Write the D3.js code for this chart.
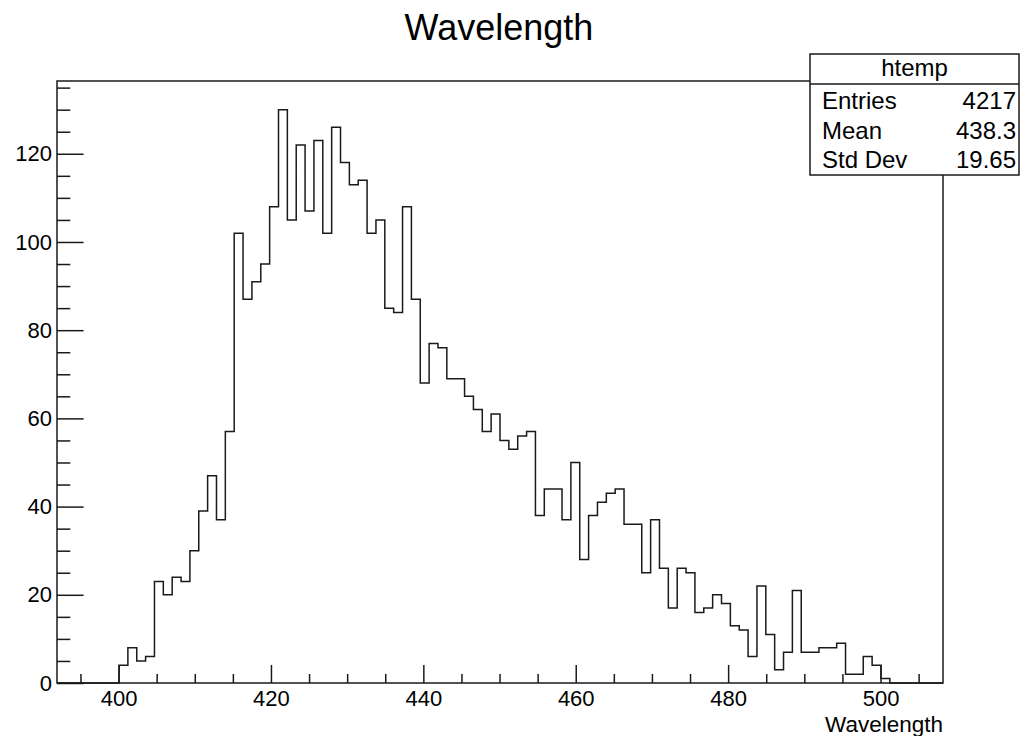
<!DOCTYPE html>
<html lang="en">
<head>
<meta charset="UTF-8">
<title>Wavelength</title>
<script src="https://d3js.org/d3.v7.min.js"></script>
<style>
  body { margin: 0; background: #fff; }
  text { font-family: "Liberation Sans", Arial, Helvetica, sans-serif; fill: #000; }
</style>
</head>
<body>
<script>

// bin contents of htemp, 100 equal bins between xLimits
var counts = [
  0, 0, 0, 0, 0, 0, 0,
  4, 8, 5, 6, 23, 20, 24, 23, 30, 39, 47, 37, 57,
  102, 87, 91, 95, 108, 130, 105, 122, 107, 123, 102, 126, 118, 113, 114, 102, 105, 85, 84, 108, 87, 68, 77, 76, 69,
  69, 65, 62, 57, 61, 55, 53, 56, 57, 38, 44, 44, 37, 50, 28, 38, 41, 43, 44, 36, 36, 25, 37, 26, 17, 26, 25,
  16, 17, 20, 18, 13, 12, 6, 22, 11, 3, 7, 21, 7, 7, 8, 8, 9, 2, 2, 6, 4, 1,
  0, 0, 0, 0, 0, 0
];
var xLimits = [391.92, 508.2];
var yLimits = [0, 136.5];

var xMajorTicks = [400, 420, 440, 460, 480, 500];
var xMinorTicks = [395, 405, 410, 415, 425, 430, 435, 445, 450, 455, 465, 470, 475, 485, 490, 495, 505];
var yMajorTicks = [0, 20, 40, 60, 80, 100, 120];
var yMinorTicks = [5, 10, 15, 25, 30, 35, 45, 50, 55, 65, 70, 75, 85, 90, 95, 105, 110, 115, 125, 130, 135];

var statNames = ["Entries", "Mean", "Std Dev"];
var statValues = ["4217", "438.3", "19.65"];

var W = 1027, H = 736;
var frame = {left: 57, right: 943, top: 81, bottom: 683};
var ink = "#1a1a1a";

var svg = d3.select("body").append("svg")
    .attr("width", W)
    .attr("height", H);

var x = d3.scaleLinear().domain(xLimits).range([frame.left, frame.right]);
var y = d3.scaleLinear().domain(yLimits).range([frame.bottom, frame.top]);

// frame
svg.append("rect")
    .attr("x", frame.left)
    .attr("y", frame.top)
    .attr("width", frame.right - frame.left)
    .attr("height", frame.bottom - frame.top)
    .attr("fill", "none")
    .attr("stroke", ink)
    .attr("stroke-width", 1.5);

// histogram outline, step style
var binW = (xLimits[1] - xLimits[0]) / counts.length;
var pts = [[xLimits[0], 0]];
counts.forEach(function(c, i) {
    var lo = xLimits[0] + i * binW;
    pts.push([lo, c]);
    pts.push([lo + binW, c]);
});
pts.push([xLimits[1], 0]);

var line = d3.line()
    .x(function(d) { return x(d[0]); })
    .y(function(d) { return y(d[1]); });

svg.append("path")
    .attr("d", line(pts))
    .attr("fill", "none")
    .attr("stroke", ink)
    .attr("stroke-width", 1.5);

// ticks point into the frame, like ROOT
var xMajorLen = 0.03 * (frame.bottom - frame.top);
var yMajorLen = 0.03 * (frame.right - frame.left);

var gx = svg.append("g")
    .attr("transform", "translate(0," + frame.bottom + ")");
gx.append("g")
    .call(d3.axisBottom(x).tickValues(xMinorTicks).tickSize(-xMajorLen / 2).tickSizeOuter(0).tickFormat(""));
gx.append("g")
    .call(d3.axisBottom(x).tickValues(xMajorTicks).tickSize(-xMajorLen).tickSizeOuter(0).tickPadding(7.5));
gx.selectAll(".domain").remove();
gx.selectAll("line").attr("stroke", ink).attr("stroke-width", 1.5);
gx.selectAll("text").style("font-size", "22px").attr("fill", "#000");

var gy = svg.append("g")
    .attr("transform", "translate(" + frame.left + ",0)");
gy.append("g")
    .call(d3.axisLeft(y).tickValues(yMinorTicks).tickSize(-yMajorLen / 2).tickSizeOuter(0).tickFormat(""));
gy.append("g")
    .call(d3.axisLeft(y).tickValues(yMajorTicks).tickSize(-yMajorLen).tickSizeOuter(0).tickPadding(5));
gy.selectAll(".domain").remove();
gy.selectAll("line").attr("stroke", ink).attr("stroke-width", 1.5);
gy.selectAll("text").style("font-size", "22px").attr("fill", "#000");

// axis title
svg.append("text")
    .attr("x", frame.right)
    .attr("y", 732)
    .attr("text-anchor", "end")
    .style("font-size", "22.5px")
    .text("Wavelength");

// main title
svg.append("text")
    .attr("x", 499)
    .attr("y", 40)
    .attr("text-anchor", "middle")
    .style("font-size", "36px")
    .text("Wavelength");

// stats box
var box = {x0: 810, x1: 1019, y0: 54, head: 84, y1: 175};
var sb = svg.append("g");
sb.append("rect")
    .attr("x", box.x0)
    .attr("y", box.y0)
    .attr("width", box.x1 - box.x0)
    .attr("height", box.y1 - box.y0)
    .attr("fill", "#fff")
    .attr("stroke", ink)
    .attr("stroke-width", 1.5);
sb.append("line")
    .attr("x1", box.x0).attr("x2", box.x1)
    .attr("y1", box.head).attr("y2", box.head)
    .attr("stroke", ink)
    .attr("stroke-width", 1.5);
sb.append("text")
    .attr("x", (box.x0 + box.x1) / 2)
    .attr("y", 76)
    .attr("text-anchor", "middle")
    .style("font-size", "24px")
    .text("htemp");

statNames.forEach(function(name, i) {
    var by = 109 + i * 29.5;
    sb.append("text")
        .attr("x", box.x0 + 12)
        .attr("y", by)
        .style("font-size", "24px")
        .text(name);
    sb.append("text")
        .attr("x", box.x1 - 3)
        .attr("y", by)
        .attr("text-anchor", "end")
        .style("font-size", "24px")
        .text(statValues[i]);
});

</script>
</body>
</html>
